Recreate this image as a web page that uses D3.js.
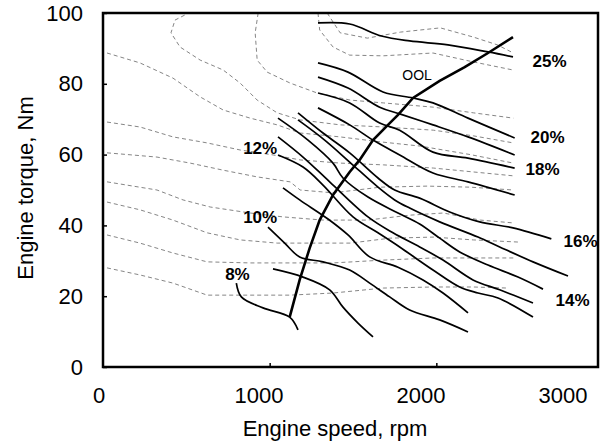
<!DOCTYPE html>
<html>
<head>
<meta charset="utf-8">
<script src="https://cdn.jsdelivr.net/npm/d3@7"></script>
<style>
  body { margin: 0; background: #fff; }
  text { font-family: "Liberation Sans", Arial, sans-serif; }
</style>
</head>
<body>
<svg id="chart" width="609" height="444"></svg>
<script>
// axis ticks
const xTicks = [0, 1000, 2000, 3000];
const yTicks = [0, 20, 40, 60, 80, 100];

// solid efficiency lines [rpm, Nm]
const effLines = [
    [[1290,97.2],[1480,96.9],[1670,93.5],[1840,92.1],[2070,91.0],[2310,89.0],[2460,87.6]],
    [[1290,85.9],[1470,83.3],[1680,77.7],[1860,76.0],[1980,74.6],[2190,70.3],[2470,64.7]],
    [[1290,81.9],[1470,78.8],[1660,73.4],[1780,71.5],[1980,68.4],[2190,65.0],[2470,59.9]],
    [[1290,77.4],[1480,74.6],[1660,68.9],[1780,66.9],[1980,60.7],[2190,59.0],[2470,56.2]],
    [[1290,73.2],[1480,68.4],[1620,64.1],[1780,59.9],[1980,54.8],[2190,52.3],[2470,48.6]],
    [[1170,71.8],[1320,66.1],[1480,60.5],[1650,53.4],[1750,50.0],[1900,47.7],[2080,43.8],[2260,41.0],[2460,39.3],[2690,36.2]],
    [[1170,69.8],[1330,64.1],[1480,57.9],[1650,50.8],[1750,47.2],[1840,44.9],[2020,41.0],[2250,36.7],[2380,33.9],[2580,29.7],[2790,25.7]],
    [[1050,70.3],[1230,64.1],[1380,57.6],[1440,53.4],[1590,48.0],[1770,43.5],[1900,40.4],[2020,36.4],[2140,32.5],[2310,28.8],[2490,25.4],[2640,22.0]],
    [[1050,65.0],[1200,59.3],[1360,52.3],[1590,42.4],[1740,37.9],[1900,33.9],[2040,30.2],[2220,24.6],[2380,21.8],[2580,18.1]],
    [[1050,59.9],[1200,56.5],[1320,51.4],[1500,42.4],[1650,37.9],[1780,33.9],[1980,27.4],[2140,22.6],[2250,20.9],[2370,19.5],[2580,14.1]],
    [[1080,50.6],[1180,47.2],[1350,41.8],[1470,37.3],[1600,31.1],[1770,28.2],[1920,24.6],[2040,20.9],[2190,15.3]],
    [[990,39.5],[1090,35.0],[1180,31.1],[1320,29.7],[1480,27.4],[1600,23.7],[1720,19.8],[1840,16.1],[2020,13.3],[2190,9.9]],
    [[1020,27.7],[1200,25.4],[1360,21.8],[1440,16.9],[1530,12.4],[1620,8.5]],
    [[800,23.7],[830,19.8],[960,16.7],[1120,14.1],[1170,10.5]]
];

// optimal operating line
const oolLine = [[1120,14.1],[1180,24.6],[1240,33.6],[1300,41.5],[1380,48.6],[1480,55.1],[1540,58.5],[1620,64.1],
    [1710,68.4],[1770,71.2],[1860,76.0],[2020,80.8],[2170,84.7],[2310,88.7],[2460,93.2]];

// thin dashed contours
const dashLines = [
    [[1345,100],[1423,94.4],[1586,92.9],[1784,94.6],[2024,95.8],[2222,93.2],[2366,91.0],[2462,88.7]],
    [[1290,100],[1300,95.2],[1380,90.4],[1480,88.1],[1680,87.9],[1980,88.7],[2220,86.2],[2460,83.9]],
    [[931,100],[913,94.4],[925,86.7],[985,83.3],[1123,80.2],[1285,77.4],[1483,75.4],[1682,74.6],[1982,73.4],[2222,71.8],[2462,70.3]],
    [[490,99.4],[432,98.0],[408,94.4],[462,90.4],[583,86.7],[721,83.9],[823,80.2],[925,75.4],[1045,71.8],[1183,69.8],[1423,68.4],[1682,67.8],[1982,66.9],[2222,65.3],[2462,63.3]],
    [[24,88.7],[222,85.9],[420,81.6],[583,76.3],[721,72.6],[883,70.3],[1045,68.4],[1183,66.1],[1423,65.0],[1664,63.6],[1904,62.4],[2204,60.0],[2462,57.6]],
    [[24,69.2],[222,67.8],[420,65.0],[625,63.3],[823,61.3],[1021,59.9],[1183,58.5],[1423,57.6],[1682,57.1],[1982,56.2],[2222,55.1],[2462,54.0]],
    [[24,60.5],[324,59.3],[523,57.6],[721,55.6],[925,53.7],[1123,52.3],[1183,50.0],[1381,49.2],[1664,50.8],[1946,51.1],[2204,50.8],[2462,50.0]],
    [[24,52.3],[324,50.0],[480,47.2],[643,45.2],[883,43.5],[1081,42.4],[1321,41.5],[1586,41.5],[1844,42.9],[2042,43.5],[2264,41.5],[2462,40.7]],
    [[24,46.6],[222,44.4],[420,41.5],[625,37.9],[823,35.9],[1045,35.0],[1321,35.0],[1483,35.0],[1724,36.4],[1982,36.7],[2222,35.9],[2490,35.3]],
    [[24,37.3],[222,35.0],[420,32.2],[625,29.7],[883,29.4],[1123,29.4],[1381,29.4],[1682,30.2],[1982,30.8],[2222,30.8],[2462,30.8]],
    [[24,28.0],[222,26.0],[420,23.7],[625,20.3],[883,20.3],[1123,20.3],[1381,20.9],[1682,22.3],[1982,22.6],[2222,22.6],[2426,22.3]]
];

// efficiency labels
const effLabels = ["25%", "20%", "18%", "16%", "14%", "12%", "10%", "8%"];
const effLabelAt = [[2577,84.7],[2565,63.3],[2535,54.2],[2763,33.9],[2715,17.2],[841,60.2],[841,40.7],[733,24.6]];
const oolLabel = "OOL";
const oolLabelAt = [1796, 81.1];

const svg = d3.select("#chart");
const margin = {left: 103, top: 13, right: 11, bottom: 77};
const width = 609 - margin.left - margin.right;
const height = 444 - margin.top - margin.bottom;

const x = d3.scaleLinear().domain([0, 2970]).range([margin.left, margin.left + width]);
const y = d3.scaleLinear().domain([0, 100]).range([margin.top + height, margin.top]);
// tick labels in the scanned figure sit a little left of their ticks
const xLabelPos = d3.scaleLinear().domain([0, 1000, 2000, 3000]).range([99, 259, 421, 563]);

const line = d3.line()
    .x(d => x(d[0]))
    .y(d => y(d[1]));

const g = svg.append("g");

g.selectAll(".dash")
    .data(dashLines)
    .enter().append("path")
    .attr("class", "dash")
    .attr("d", line)
    .attr("fill", "none")
    .attr("stroke", "#777")
    .attr("stroke-width", 0.9)
    .attr("stroke-dasharray", "4,3");

g.selectAll(".eff")
    .data(effLines)
    .enter().append("path")
    .attr("class", "eff")
    .attr("d", d3.line().x(d => x(d[0])).y(d => y(d[1])).curve(d3.curveCatmullRom))
    .attr("fill", "none")
    .attr("stroke", "#000")
    .attr("stroke-width", 1.7);

g.append("path")
    .attr("d", line(oolLine))
    .attr("fill", "none")
    .attr("stroke", "#000")
    .attr("stroke-width", 2.6);

// frame
svg.append("rect")
    .attr("x", margin.left)
    .attr("y", margin.top)
    .attr("width", width)
    .attr("height", height)
    .attr("fill", "none")
    .attr("stroke", "#000")
    .attr("stroke-width", 2.5);

// y axis: inward ticks
const yAxis = svg.append("g")
    .attr("transform", `translate(${margin.left},0)`)
    .call(d3.axisLeft(y).tickValues(yTicks).tickSize(-4).tickPadding(20));
yAxis.select(".domain").remove();
yAxis.selectAll(".tick line").attr("stroke-width", 1.5);
yAxis.selectAll(".tick text")
    .attr("font-size", "22px")
    .attr("fill", "#000")
    .attr("font-family", "'Liberation Sans', Arial, sans-serif");

// x axis: inward ticks, labels placed separately
const xAxis = svg.append("g")
    .attr("transform", `translate(0,${margin.top + height})`)
    .call(d3.axisBottom(x).tickValues([1000, 2000]).tickSize(-4).tickFormat(""));
xAxis.select(".domain").remove();
xAxis.selectAll(".tick line").attr("stroke-width", 1.5);

svg.selectAll(".xlabel")
    .data(xTicks)
    .enter().append("text")
    .attr("class", "xlabel")
    .attr("x", d => xLabelPos(d))
    .attr("y", 403)
    .attr("text-anchor", "middle")
    .attr("font-size", "22px")
    .text(d => d);

svg.append("text")
    .attr("x", 335)
    .attr("y", 436)
    .attr("text-anchor", "middle")
    .attr("font-size", "22px")
    .text("Engine speed, rpm");

svg.append("text")
    .attr("transform", `translate(33,${margin.top + height / 2 - 2}) rotate(-90)`)
    .attr("text-anchor", "middle")
    .attr("font-size", "22px")
    .text("Engine torque, Nm");

svg.selectAll(".efflabel")
    .data(effLabels)
    .enter().append("text")
    .attr("class", "efflabel")
    .attr("x", (d, i) => x(effLabelAt[i][0]))
    .attr("y", (d, i) => y(effLabelAt[i][1]))
    .attr("font-size", "17px")
    .attr("font-weight", "bold")
    .text(d => d);

svg.append("text")
    .attr("x", x(oolLabelAt[0]))
    .attr("y", y(oolLabelAt[1]))
    .attr("font-size", "14px")
    .text(oolLabel);
</script>
</body>
</html>
